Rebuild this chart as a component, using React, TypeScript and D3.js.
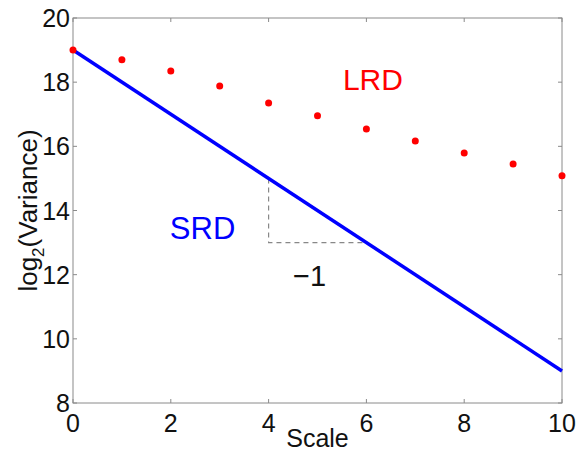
import React, { useRef, useEffect } from "react";
import * as d3 from "d3";

// scales on the x axis (0..10)
const scales = [0, 1, 2, 3, 4, 5, 6, 7, 8, 9, 10];
// long range dependence: log2 variance per scale
const lrdValues = [19, 18.7, 18.35, 17.88, 17.35, 16.95, 16.54, 16.17, 15.79, 15.45, 15.08];
// short range dependence: slope -1 line
const srdLine = [
  { x: 0, y: 19 },
  { x: 10, y: 9 },
];
// slope triangle corners
const slopeTri = [
  { x: 4, y: 15 },
  { x: 4, y: 13 },
  { x: 6, y: 13 },
];
const xTicks = [0, 2, 4, 6, 8, 10];
const yTicks = [8, 10, 12, 14, 16, 18, 20];

const W = 578;
const H = 453;
const margin = { left: 73, right: 16, top: 18, bottom: 50 };
const FONT = "'Liberation Sans', Arial, Helvetica, sans-serif";

function App() {
  const svgRef = useRef<SVGSVGElement>(null);

  useEffect(() => {
    const svg = d3.select(svgRef.current);
    svg.selectAll("*").remove();

    const x = d3.scaleLinear().domain([0, 10]).range([margin.left, W - margin.right]);
    const y = d3.scaleLinear().domain([8, 20]).range([H - margin.bottom, margin.top]);

    const [x0, x1] = x.range();
    const [y0, y1] = y.range();
    const axisColor = "#8a8a8a";
    const tickLen = 4;

    // box
    svg
      .append("rect")
      .attr("x", x0)
      .attr("y", y1)
      .attr("width", x1 - x0)
      .attr("height", y0 - y1)
      .attr("fill", "none")
      .attr("stroke", axisColor)
      .attr("stroke-width", 1);

    // ticks inward on all sides
    const g = svg.append("g").attr("stroke", axisColor).attr("stroke-width", 1);
    xTicks.forEach((t) => {
      g.append("line").attr("x1", x(t)).attr("x2", x(t)).attr("y1", y0).attr("y2", y0 - tickLen);
      g.append("line").attr("x1", x(t)).attr("x2", x(t)).attr("y1", y1).attr("y2", y1 + tickLen);
    });
    yTicks.forEach((t) => {
      g.append("line").attr("x1", x0).attr("x2", x0 + tickLen).attr("y1", y(t)).attr("y2", y(t));
      g.append("line").attr("x1", x1).attr("x2", x1 - tickLen).attr("y1", y(t)).attr("y2", y(t));
    });

    // tick labels
    svg
      .selectAll(".xlabel")
      .data(xTicks)
      .join("text")
      .attr("class", "xlabel")
      .attr("x", (d) => x(d))
      .attr("y", y0 + 29)
      .attr("text-anchor", "middle")
      .attr("font-family", FONT)
      .attr("font-size", 25)
      .attr("fill", "#111")
      .text((d) => d);

    svg
      .selectAll(".ylabel")
      .data(yTicks)
      .join("text")
      .attr("class", "ylabel")
      .attr("x", x0 - 3)
      .attr("y", (d) => y(d) + 9)
      .attr("text-anchor", "end")
      .attr("font-family", FONT)
      .attr("font-size", 25)
      .attr("fill", "#111")
      .text((d) => d);

    // axis titles
    svg
      .append("text")
      .attr("x", (x0 + x1) / 2)
      .attr("y", 447)
      .attr("text-anchor", "middle")
      .attr("font-family", FONT)
      .attr("font-size", 25)
      .attr("fill", "#111")
      .text("Scale");

    const yt = svg
      .append("text")
      .attr("transform", `translate(37,${(y0 + y1) / 2}) rotate(-90)`)
      .attr("text-anchor", "middle")
      .attr("font-family", FONT)
      .attr("font-size", 26)
      .attr("fill", "#111");
    yt.append("tspan").text("log");
    yt.append("tspan").attr("font-size", 17).attr("dy", 7).text("2");
    yt.append("tspan").attr("dy", -7).text("(Variance)");

    // slope triangle (dashed)
    svg
      .append("path")
      .attr(
        "d",
        d3
          .line<{ x: number; y: number }>()
          .x((d) => x(d.x))
          .y((d) => y(d.y))(slopeTri)
      )
      .attr("fill", "none")
      .attr("stroke", "#888")
      .attr("stroke-width", 1.2)
      .attr("stroke-dasharray", "5,4");

    // SRD line
    svg
      .append("path")
      .attr(
        "d",
        d3
          .line<{ x: number; y: number }>()
          .x((d) => x(d.x))
          .y((d) => y(d.y))(srdLine)
      )
      .attr("fill", "none")
      .attr("stroke", "#0000ff")
      .attr("stroke-width", 3.5);

    // LRD dots
    svg
      .selectAll(".dot")
      .data(scales)
      .join("circle")
      .attr("class", "dot")
      .attr("cx", (d) => x(d))
      .attr("cy", (d, i) => y(lrdValues[i]))
      .attr("r", 3.5)
      .attr("fill", "#ff0000");

    // annotations
    svg
      .append("text")
      .attr("x", x(5.52))
      .attr("y", y(17.77))
      .attr("font-family", FONT)
      .attr("font-size", 30)
      .attr("fill", "#ff0000")
      .text("LRD");

    svg
      .append("text")
      .attr("x", x(1.98))
      .attr("y", y(13.1))
      .attr("font-family", FONT)
      .attr("font-size", 31)
      .attr("fill", "#0000ff")
      .text("SRD");

    svg
      .append("text")
      .attr("x", x(4.5))
      .attr("y", y(11.65))
      .attr("font-family", FONT)
      .attr("font-size", 29)
      .attr("fill", "#111")
      .text("\u22121");
  }, []);

  return (
    <svg
      ref={svgRef}
      width={W}
      height={H}
      style={{ position: "absolute", left: 0, top: 0, background: "#fff" }}
    />
  );
}

export default App;
